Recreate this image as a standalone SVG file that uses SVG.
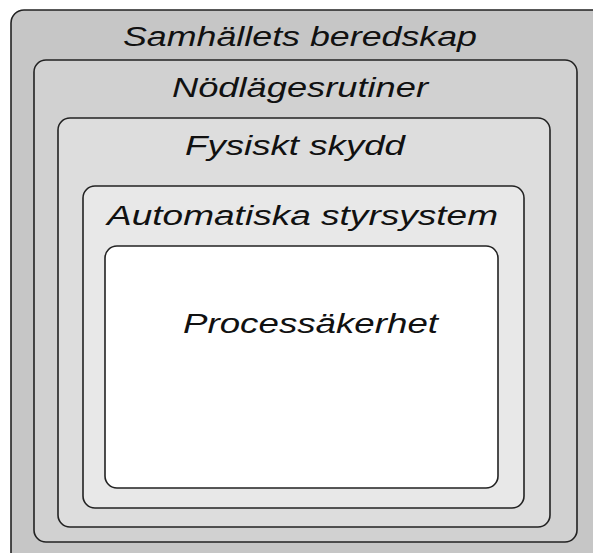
<svg xmlns="http://www.w3.org/2000/svg" width="593" height="553" viewBox="0 0 593 553">
  <style>
    .layer { stroke: #222; stroke-width: 1.6; }
    .lbl { font-family: "Liberation Sans", Arial, sans-serif; font-style: italic; font-size: 27px; fill: #111; }
  </style>
  <rect width="593" height="553" fill="#ffffff"/>
  <g id="samhallets-beredskap">
    <rect class="layer" x="11" y="10" width="595" height="555" rx="13" fill="#c6c6c6"/>
    <text class="lbl" x="123" y="46" textLength="354" lengthAdjust="spacingAndGlyphs">Samhällets beredskap</text>
  </g>
  <g id="nodlagesrutiner">
    <rect class="layer" x="34" y="60" width="543" height="482" rx="12" fill="#d1d1d1"/>
    <text class="lbl" x="172" y="97" textLength="256" lengthAdjust="spacingAndGlyphs">Nödlägesrutiner</text>
  </g>
  <g id="fysiskt-skydd">
    <rect class="layer" x="58" y="118" width="492" height="409" rx="12" fill="#dddddd"/>
    <text class="lbl" x="185" y="155" textLength="220" lengthAdjust="spacingAndGlyphs">Fysiskt skydd</text>
  </g>
  <g id="automatiska-styrsystem">
    <rect class="layer" x="83" y="186" width="441" height="322" rx="12" fill="#e8e8e8"/>
    <text class="lbl" x="107" y="225" textLength="391" lengthAdjust="spacingAndGlyphs">Automatiska styrsystem</text>
  </g>
  <g id="processakerhet">
    <rect class="layer" x="105" y="246" width="393" height="242" rx="12" fill="#ffffff"/>
    <text class="lbl" x="183" y="333" textLength="255" lengthAdjust="spacingAndGlyphs">Processäkerhet</text>
  </g>
  <g id="connectors"/>
</svg>
